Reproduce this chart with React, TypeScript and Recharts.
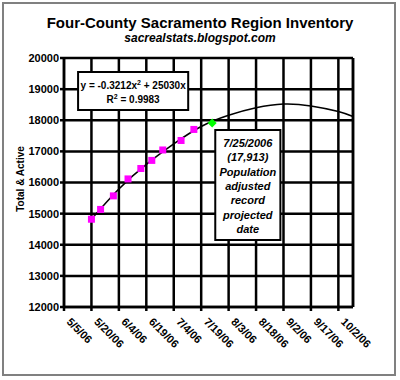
import React from 'react';
import { ComposedChart, XAxis, YAxis, Scatter, Line, ReferenceLine, ReferenceArea, CartesianGrid } from 'recharts';

const tickLabels = ['5/5/06', '5/20/06', '6/4/06', '6/19/06', '7/4/06', '7/19/06', '8/3/06', '8/18/06', '9/2/06', '9/17/06', '10/2/06'];
const axisEndDate = '10/10/06';
const yTicks = [12000, 13000, 14000, 15000, 16000, 17000, 18000, 19000, 20000];

const inventoryDates = ['5/20/06', '5/25/06', '6/1/06', '6/9/06', '6/16/06', '6/22/06', '6/28/06', '7/8/06', '7/15/06'];
const inventoryValues = [14820, 15135, 15570, 16115, 16450, 16710, 17045, 17350, 17705];

const trendDates = ['5/20/06', '6/4/06', '6/19/06', '7/4/06', '7/19/06', '8/3/06', '8/18/06', '9/2/06', '9/17/06', '10/2/06', '10/10/06'];
const trendValues = [14820, 15790, 16580, 17240, 17800, 18160, 18400, 18520, 18460, 18280, 18120];

const projectedDates = ['7/25/06'];
const projectedValues = [17913];

const titleText = 'Four-County Sacramento Region Inventory';
const subtitleText = 'sacrealstats.blogspot.com';
const yAxisTitle = 'Total & Active';
const noteLines = ['7/25/2006', '(17,913)', 'Population', 'adjusted', 'record', 'projected', 'date'];

const FONT = '"Liberation Sans", Arial, sans-serif';

const toDay = (s: string) => {
  const [m, d, y] = s.split('/').map(Number);
  return Date.UTC(2000 + y, m - 1, d) / 86400000;
};

const xTicks = tickLabels.map(toDay);
const labelByDay = new Map<number, string>(tickLabels.map((l) => [toDay(l), l]));
const xStart = xTicks[0];
const xEnd = toDay(axisEndDate);

const pointData = [
  ...inventoryDates.map((d, i) => ({ t: toDay(d), v: inventoryValues[i], projected: false })),
  ...projectedDates.map((d, i) => ({ t: toDay(d), v: projectedValues[i], projected: true })),
];
const trendData = trendDates.map((d, i) => ({ t: toDay(d), v: trendValues[i] }));

const XTick = (props: any) => {
  const { x, y, payload } = props;
  const label = labelByDay.get(payload.value) ?? '';
  return (
    <g transform={`translate(${x + 2},${y + 9.5})`}>
      <text x={0} y={0} transform="rotate(45)" textAnchor="start" fontSize={11} fontWeight="bold" fontFamily={FONT} fill="#000">
        {label}
      </text>
    </g>
  );
};

const Marker = (props: any) => {
  const { cx, cy, payload } = props;
  if (cx == null || cy == null) return null;
  if (payload && payload.projected) {
    const r = 4.5;
    return <polygon points={`${cx},${cy - r} ${cx + r},${cy} ${cx},${cy + r} ${cx - r},${cy}`} fill="#00FF00" />;
  }
  return <rect x={cx - 3.5} y={cy - 3.5} width={7} height={7} fill="#FF00FF" />;
};

const EquationText = (props: any) => {
  const vb = props.viewBox || {};
  const cx = vb.x + vb.width / 2;
  return (
    <g fontFamily={FONT} fontWeight="bold" fontSize={10} fill="#000">
      <text x={cx} y={vb.y + 16.5} textAnchor="middle">
        <tspan>y = -0.3212x</tspan>
        <tspan fontSize={7} dy={-4}>2</tspan>
        <tspan dy={4}> + 25030x</tspan>
      </text>
      <text x={cx} y={vb.y + 30.5} textAnchor="middle">
        <tspan>R</tspan>
        <tspan fontSize={7} dy={-4}>2</tspan>
        <tspan dy={4}> = 0.9983</tspan>
      </text>
    </g>
  );
};

const NoteText = (props: any) => {
  const vb = props.viewBox || {};
  const cx = vb.x + vb.width / 2;
  return (
    <g fontFamily={FONT} fontWeight="bold" fontStyle="italic" fontSize={11} fill="#000">
      {noteLines.map((l, i) => (
        <text key={l} x={cx} y={vb.y + 17.3 + i * 14.3} textAnchor="middle">
          {l}
        </text>
      ))}
    </g>
  );
};

export default function App() {
  return (
    <div style={{ position: 'absolute', left: 2, top: 2, width: 394, height: 374, border: '2px solid #808080', boxSizing: 'border-box', background: '#fff' }}>
      <div style={{ marginLeft: -4, marginTop: -4, width: 400, height: 380 }}>
        <ComposedChart width={400} height={380} margin={{ top: 58, right: 47, bottom: 13, left: 0 }}>
          <CartesianGrid stroke="#000" strokeWidth={2.5} />
          <XAxis
            type="number"
            dataKey="t"
            domain={[xStart, xEnd]}
            ticks={xTicks}
            interval={0}
            height={60}
            axisLine={{ stroke: '#000', strokeWidth: 2.5 }}
            tickLine={{ stroke: '#000', strokeWidth: 2.5 }}
            tickSize={4}
            tickMargin={2}
            tick={<XTick />}
          />
          <YAxis
            type="number"
            domain={[12000, 20000]}
            ticks={yTicks}
            interval={0}
            width={64}
            axisLine={{ stroke: '#000', strokeWidth: 2.5 }}
            tickLine={{ stroke: '#000', strokeWidth: 2.5 }}
            tickSize={4}
            tickMargin={1}
            tick={{ fontSize: 11, fontWeight: 'bold', fontFamily: FONT, fill: '#000' }}
          />
          <ReferenceLine x={xEnd} stroke="#000" strokeWidth={2.5} />
          <Scatter data={pointData} dataKey="v" shape={<Marker />} isAnimationActive={false} />
          <Line data={trendData} dataKey="v" type="natural" stroke="#000" strokeWidth={1.6} dot={false} activeDot={false} isAnimationActive={false} />
          <ReferenceArea
            x1={xStart + 7.7}
            x2={xStart + 67.9}
            y1={18330}
            y2={19550}
            fill="#fff"
            fillOpacity={1}
            stroke="#000"
            strokeWidth={2}
            ifOverflow="visible"
            label={<EquationText />}
          />
          <ReferenceArea
            x1={xStart + 82.7}
            x2={xStart + 118.3}
            y1={14150}
            y2={17690}
            fill="#fff"
            fillOpacity={1}
            stroke="#000"
            strokeWidth={2}
            ifOverflow="visible"
            label={<NoteText />}
          />
          <text x={200} y={28} textAnchor="middle" fontFamily={FONT} fontSize={15} fontWeight="bold" fill="#000">
            {titleText}
          </text>
          <text x={200} y={42} textAnchor="middle" fontFamily={FONT} fontSize={12} fontWeight="bold" fontStyle="italic" fill="#000">
            {subtitleText}
          </text>
          <text x={20} y={179} dy="0.35em" transform="rotate(-90 20 179)" textAnchor="middle" fontFamily={FONT} fontSize={10} fontWeight="bold" fill="#000">
            {yAxisTitle}
          </text>
        </ComposedChart>
      </div>
    </div>
  );
}
